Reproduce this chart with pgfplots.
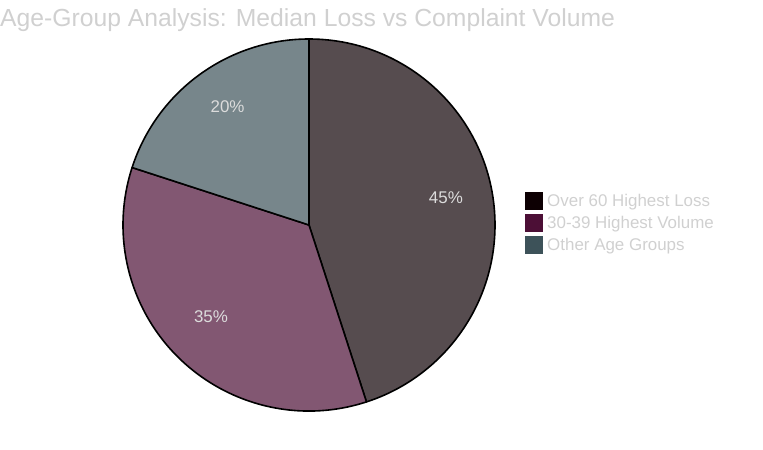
\documentclass[border=0pt]{standalone}
\usepackage{pgfplots}
\usepackage{pgfplotstable}
\pgfplotsset{compat=1.18}
\usepackage{fontspec}
\setmainfont{Liberation Sans}
\definecolor{cA}{RGB}{13,0,3}
\definecolor{cB}{RGB}{76,15,54}
\definecolor{cC}{RGB}{61,82,89}
\definecolor{txt}{RGB}{208,208,208}
\definecolor{lbl}{RGB}{220,220,220}
\pgfplotstableread{
label value
A 45
B 35
C 20
}\piedata
\begin{document}%
\begin{tikzpicture}
\pgfplotstablegetelem{0}{value}\of\piedata \let\vA\pgfplotsretval
\pgfplotstablegetelem{1}{value}\of\piedata \let\vB\pgfplotsretval
\pgfplotstablegetelem{2}{value}\of\piedata \let\vC\pgfplotsretval
\pgfmathsetmacro{\tot}{\vA+\vB+\vC}
\pgfmathsetmacro{\aA}{90}
\pgfmathsetmacro{\aB}{\aA-360*\vA/\tot}
\pgfmathsetmacro{\aC}{\aB-360*\vB/\tot}
\pgfmathsetmacro{\aD}{\aC-360*\vC/\tot}
\pgfmathsetmacro{\mA}{(\aA+\aB)/2}
\pgfmathsetmacro{\mB}{(\aB+\aC)/2}
\pgfmathsetmacro{\mC}{(\aC+\aD)/2}
\useasboundingbox (0,0) rectangle (763bp,-450bp);
\node[anchor=base west, inner sep=0pt, text=txt, font=\fontsize{24.8}{28}\selectfont] at (0bp,-26bp) {Age-Group Analysis: Median Loss vs Complaint Volume};
\begin{axis}[at={(309bp,-225bp)}, anchor=center, scale only axis, width=372bp, height=372bp,
  xmin=-1, xmax=1, ymin=-1, ymax=1, hide axis, clip=false]
\filldraw[fill=cA!70!white, draw=black, line width=1.6bp, line join=round] (axis cs:0,0) -- (axis cs:{cos(\aA)},{sin(\aA)}) arc[start angle=\aA, end angle=\aB, radius=186bp] -- cycle;
\filldraw[fill=cB!70!white, draw=black, line width=1.6bp, line join=round] (axis cs:0,0) -- (axis cs:{cos(\aB)},{sin(\aB)}) arc[start angle=\aB, end angle=\aC, radius=186bp] -- cycle;
\filldraw[fill=cC!70!white, draw=black, line width=1.6bp, line join=round] (axis cs:0,0) -- (axis cs:{cos(\aC)},{sin(\aC)}) arc[start angle=\aC, end angle=\aD, radius=186bp] -- cycle;
\node[text=lbl, font=\fontsize{17}{20}\selectfont, yshift=6bp] at (axis cs:{0.745*cos(\mA)},{0.745*sin(\mA)}) {45\%};
\node[text=lbl, font=\fontsize{17}{20}\selectfont, yshift=6bp] at (axis cs:{0.745*cos(\mB)},{0.745*sin(\mB)}) {35\%};
\node[text=lbl, font=\fontsize{17}{20}\selectfont, yshift=6bp] at (axis cs:{0.745*cos(\mC)},{0.745*sin(\mC)}) {20\%};
\end{axis}
\fill[cA] (525bp,-192bp) rectangle (543bp,-210bp);
\fill[cB] (525bp,-214bp) rectangle (543bp,-232bp);
\fill[cC] (525bp,-236bp) rectangle (543bp,-254bp);
\node[anchor=base west, inner sep=0pt, text=txt, font=\fontsize{17}{20}\selectfont] at (547bp,-206bp) {Over 60 Highest Loss};
\node[anchor=base west, inner sep=0pt, text=txt, font=\fontsize{17}{20}\selectfont] at (547bp,-228bp) {30-39 Highest Volume};
\node[anchor=base west, inner sep=0pt, text=txt, font=\fontsize{17}{20}\selectfont] at (547bp,-250bp) {Other Age Groups};
\end{tikzpicture}%
\end{document}
